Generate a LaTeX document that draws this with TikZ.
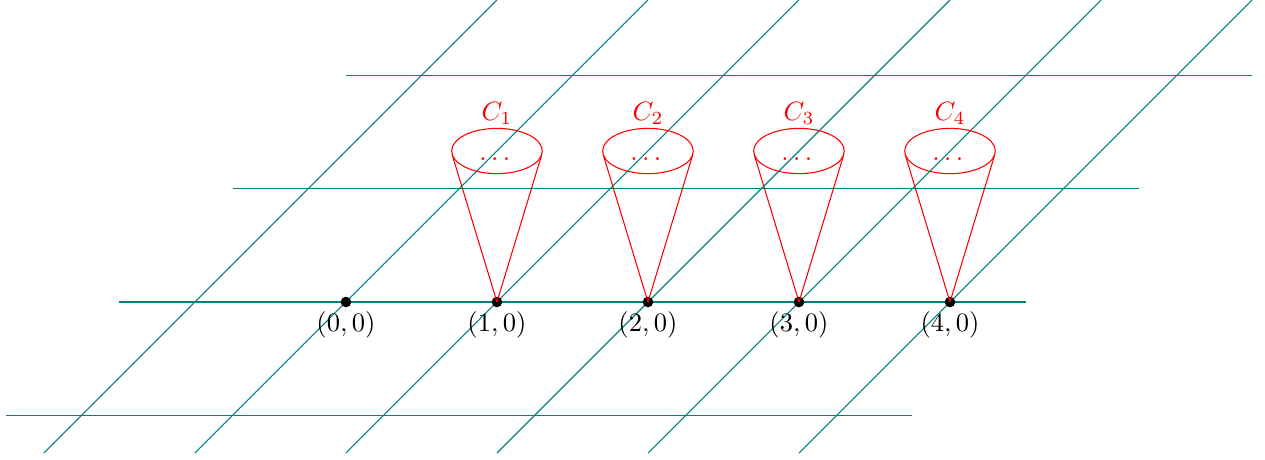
\documentclass[tikz,border=0pt]{standalone}
\usepackage{amsmath,amssymb}
\usepackage{tikz}
\usetikzlibrary{calc}

\begin{document}
\begin{tikzpicture}[x=2cm,y=2cm,grid/.style={teal},cone/.style={red}]
\useasboundingbox (-2.291,-1.046) rectangle (6.086,2.0);
% skewed lattice
\foreach \r in {-0.75,0,0.75,1.5}{\draw[grid] (\r-1.5,\r)--(\r+4.5,\r);}
\foreach \k in {0,...,5}{\draw[grid] (\k-2,-1)--(\k+1,2);}
% cones over the points (1,0)..(4,0)
\foreach \k in {1,...,4}{
  \coordinate (tl\k) at (\k-.297,.977);\coordinate (tr\k) at (\k+.297,.977);
  \draw[cone] (\k,1) ellipse (.3 and .15);
  \node[cone,inner sep=0] (d\k) at (\k,.947){$\dots$};
  \node[cone] (c\k) at (\k,1.25){$C_\k$};
}
% lattice points
\foreach \k in {0,...,4}{
  \node[circle,fill=black,inner sep=0,minimum size=4pt] (p\k) at (\k,0){};
  \node[below] (l\k) at (p\k.center){$(\k,0)$};
}
\foreach \k in {1,...,4}{\draw[cone] (p\k.center)--(tl\k);\draw[cone] (p\k.center)--(tr\k);}
\end{tikzpicture}
\end{document}
